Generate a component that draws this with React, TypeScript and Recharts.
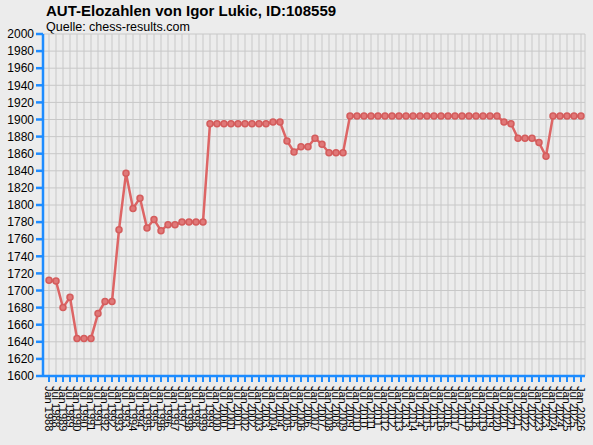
import React from 'react';
import { LineChart, Line, XAxis, YAxis, CartesianGrid } from 'recharts';

// rating list dates (Jan / Jul)
const listDates = [
  'Jan 1988', 'Jul 1988', 'Jan 1989', 'Jul 1989', 'Jan 1990', 'Jul 1990', 'Jan 1991', 'Jul 1991',
  'Jan 1992', 'Jul 1992', 'Jan 1993', 'Jul 1993', 'Jan 1994', 'Jul 1994', 'Jan 1995', 'Jul 1995',
  'Jan 1996', 'Jul 1996', 'Jan 1997', 'Jul 1997', 'Jan 1998', 'Jul 1998', 'Jan 1999', 'Jul 1999',
  'Jan 2000', 'Jul 2000', 'Jan 2001', 'Jul 2001', 'Jan 2002', 'Jul 2002', 'Jan 2003', 'Jul 2003',
  'Jan 2004', 'Jul 2004', 'Jan 2005', 'Jul 2005', 'Jan 2006', 'Jul 2006', 'Jan 2007', 'Jul 2007',
  'Jan 2008', 'Jul 2008', 'Jan 2009', 'Jul 2009', 'Jan 2010', 'Jul 2010', 'Jan 2011', 'Jul 2011',
  'Jan 2012', 'Jul 2012', 'Jan 2013', 'Jul 2013', 'Jan 2014', 'Jul 2014', 'Jan 2015', 'Jul 2015',
  'Jan 2016', 'Jul 2016', 'Jan 2017', 'Jul 2017', 'Jan 2018', 'Jul 2018', 'Jan 2019', 'Jul 2019',
  'Jan 2020', 'Jul 2020', 'Jan 2021', 'Jul 2021', 'Jan 2022', 'Jul 2022', 'Jan 2023', 'Jul 2023',
  'Jan 2024', 'Jul 2024', 'Jan 2025', 'Jul 2025', 'Jan 2026',
];

const elo = [
  1712, 1711, 1680, 1692, 1644, 1644, 1644, 1673, 1687, 1687,
  1771, 1837, 1796, 1808, 1773, 1783, 1770, 1777, 1777, 1780,
  1780, 1780, 1780, 1895, 1895, 1895, 1895, 1895, 1895, 1895,
  1895, 1895, 1897, 1897, 1875, 1862, 1868, 1868, 1878, 1871,
  1861, 1861, 1861, 1904, 1904, 1904, 1904, 1904, 1904, 1904,
  1904, 1904, 1904, 1904, 1904, 1904, 1904, 1904, 1904, 1904,
  1904, 1904, 1904, 1904, 1904, 1897, 1895, 1878, 1878, 1878,
  1873, 1857, 1904, 1904, 1904, 1904, 1904,
];

const yTicks = [
  1600, 1620, 1640, 1660, 1680, 1700, 1720, 1740, 1760, 1780, 1800,
  1820, 1840, 1860, 1880, 1900, 1920, 1940, 1960, 1980, 2000,
];

const data = listDates.map((d, i) => ({ date: d, elo: elo[i] }));

const FONT = '"Liberation Sans", Arial, sans-serif';
const BLUE = '#1e8cff';

const DateTick = (props: any) => {
  const { x, y, payload } = props;
  return (
    <text
      transform={`translate(${x},${y + 2}) rotate(90)`}
      textAnchor="start"
      dominantBaseline="central"
      fontSize={11}
      fontFamily={FONT}
      fill="#000"
    >
      {payload.value}
    </text>
  );
};

export default function App() {
  return (
    <div style={{ position: 'absolute', left: 0, top: 0, width: 593, height: 445, background: '#ececec', fontFamily: FONT }}>
      <svg width={593} height={40} style={{ position: 'absolute', left: 0, top: 0 }}>
        <text x={46} y={16} fontSize={15} fontWeight="bold" fontFamily={FONT} fill="#000">
          AUT-Elozahlen von Igor Lukic, ID:108559
        </text>
        <text x={46} y={31} fontSize={12.5} fontFamily={FONT} fill="#000">
          Quelle: chess-results.com
        </text>
      </svg>
      <div style={{ position: 'absolute', left: 0, top: 0 }}>
        <LineChart width={593} height={445} data={data} margin={{ top: 34, right: 8, bottom: 0, left: 8 }}>
          <CartesianGrid stroke="#c8c8c8" strokeWidth={1} />
          <XAxis
            dataKey="date"
            interval={0}
            height={69}
            padding={{ left: 6, right: 4 }}
            axisLine={{ stroke: BLUE, strokeWidth: 2.5 }}
            tickLine={{ stroke: BLUE, strokeWidth: 2 }}
            tickSize={6}
            tickMargin={2}
            tick={<DateTick />}
          />
          <YAxis
            domain={[1600, 2000]}
            ticks={yTicks}
            interval={0}
            width={35}
            axisLine={{ stroke: BLUE, strokeWidth: 2.5 }}
            tickLine={{ stroke: BLUE, strokeWidth: 2.5 }}
            tickSize={7}
            tickMargin={2}
            tick={{ fill: '#000', fontSize: 12, fontFamily: FONT }}
          />
          <Line
            type="linear"
            dataKey="elo"
            stroke="#dd6565"
            strokeWidth={2.5}
            dot={{ r: 3, fill: '#e07878', stroke: '#d45c5c', strokeWidth: 1.5 }}
            isAnimationActive={false}
          />
        </LineChart>
      </div>
    </div>
  );
}
